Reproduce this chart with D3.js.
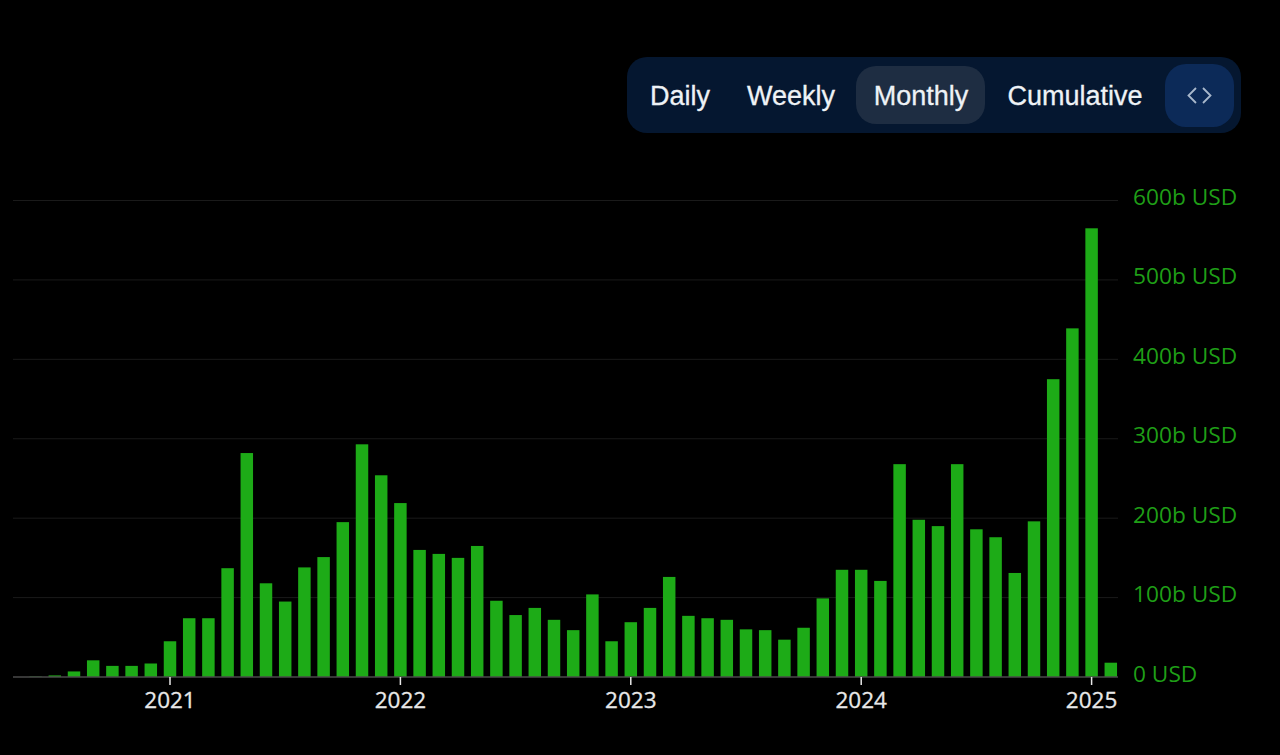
<!DOCTYPE html>
<html>
<head>
<meta charset="utf-8">
<title>Monthly volume</title>
<script src="https://d3js.org/d3.v7.min.js"></script>
<style>
  html, body { margin: 0; padding: 0; background: #000; overflow: hidden; }
  svg { display: block; }
  .y_label { font-family: "Open Sans", sans-serif; font-size: 22.7px; fill: #1f9e17; }
  .x_label { font-family: "Open Sans", sans-serif; font-size: 22.5px; fill: #e8e8e8; text-anchor: middle; stroke: #e8e8e8; stroke-width: 0.3px; }
  .tab_label { font-family: "Liberation Sans", sans-serif; font-size: 27px; fill: #eef2f6; text-anchor: middle; stroke: #eef2f6; stroke-width: 0.3px; }
</style>
</head>
<body>
<div id="chart_col"></div>

<script>
  // months, one bar each
  const months = d3.range(6, 13).map(m => "2020-" + m)
      .concat(...["2021", "2022", "2023", "2024"].map(y => d3.range(1, 13).map(m => y + "-" + m)))
      .concat(["2025-1", "2025-2"]);

  // volume in billion USD
  const values2020 = [0.5, 2, 7, 21, 14, 14, 17];
  const values2021 = [45, 74, 74, 137, 282, 118, 95, 138, 151, 195, 293, 254];
  const values2022 = [219, 160, 155, 150, 165, 96, 78, 87, 72, 59, 104, 45];
  const values2023 = [69, 87, 126, 77, 74, 72, 60, 59, 47, 62, 99, 135];
  const values2024 = [135, 121, 268, 198, 190, 268, 186, 176, 131, 196, 375, 439];
  const values2025 = [565, 18];
  const volume = [].concat(values2020, values2021, values2022, values2023, values2024, values2025);

  const yTicks = [0, 100, 200, 300, 400, 500, 600];
  const xTicks = ["2021-1", "2022-1", "2023-1", "2024-1", "2025-1"];
  const tabs = ["Daily", "Weekly", "Monthly", "Cumulative"];
  const tabCenters = [680, 791, 921, 1075];

  const width = 1280, height = 755;

  const svg = d3.select("#chart_col")
      .append("svg")
          .attr("width", width)
          .attr("height", height);

  const x = d3.scaleBand()
      .domain(months)
      .range([26, 1120.4])
      .paddingInner(0.35)
      .paddingOuter(0.175);

  const y = d3.scaleLinear()
      .domain([0, 600])
      .range([677, 200.5]);

  // grid lines
  svg.selectAll(".grid")
      .data(yTicks.slice(1))
      .enter()
      .append("line")
          .attr("class", "grid")
          .attr("x1", 13)
          .attr("x2", 1118)
          .attr("y1", d => y(d))
          .attr("y2", d => y(d))
          .attr("stroke", "#1a1a1a");

  // y labels
  svg.selectAll(".y_label")
      .data(yTicks)
      .enter()
      .append("text")
          .attr("class", "y_label")
          .attr("x", 1133)
          .attr("y", d => y(d) + 4.5)
          .text(d => d === 0 ? "0 USD" : d + "b USD");

  // bars
  svg.selectAll(".bar")
      .data(months)
      .enter()
      .append("rect")
          .attr("class", "bar")
          .attr("x", d => x(d))
          .attr("y", (d, i) => y(volume[i]))
          .attr("width", x.bandwidth())
          .attr("height", (d, i) => y(0) - y(volume[i]))
          .attr("fill", "#1dab17");

  // x axis line
  svg.append("line")
      .attr("x1", 13)
      .attr("x2", 1118)
      .attr("y1", y(0))
      .attr("y2", y(0))
      .attr("stroke", "#4a4a4a")
      .attr("stroke-width", 1.5);

  // year ticks and labels
  const xAxis = svg.selectAll(".year_tick")
      .data(xTicks)
      .enter()
      .append("g")
          .attr("class", "year_tick")
          .attr("transform", d => `translate(${x(d) + x.bandwidth() / 2},0)`);

  xAxis.append("line")
      .attr("y1", y(0))
      .attr("y2", y(0) + 8)
      .attr("stroke", "#e8e8e8")
      .attr("stroke-width", 1.5);

  xAxis.append("text")
      .attr("class", "x_label")
      .attr("y", 708)
      .text(d => d.slice(0, 4));

  // tab bar
  svg.append("rect")
      .attr("x", 627).attr("y", 57)
      .attr("width", 614).attr("height", 76)
      .attr("rx", 20)
      .attr("fill", "#051730");

  svg.append("rect")
      .attr("x", 856).attr("y", 66)
      .attr("width", 129).attr("height", 58)
      .attr("rx", 20)
      .attr("fill", "#1e2d42");

  svg.append("rect")
      .attr("x", 1165).attr("y", 64)
      .attr("width", 69).attr("height", 63)
      .attr("rx", 21)
      .attr("fill", "#0c2a58");

  svg.selectAll(".tab_label")
      .data(tabs)
      .enter()
      .append("text")
          .attr("class", "tab_label")
          .attr("x", (d, i) => tabCenters[i])
          .attr("y", 105)
          .text(d => d);

  // code icon
  svg.append("path")
      .attr("d", "M1196 88 L1188.500 95.500 L1196 103 M1203 88 L1210.500 95.500 L1203 103")
      .attr("fill", "none")
      .attr("stroke", "#a9b8cc")
      .attr("stroke-width", 1.8);
</script>
</body>
</html>
